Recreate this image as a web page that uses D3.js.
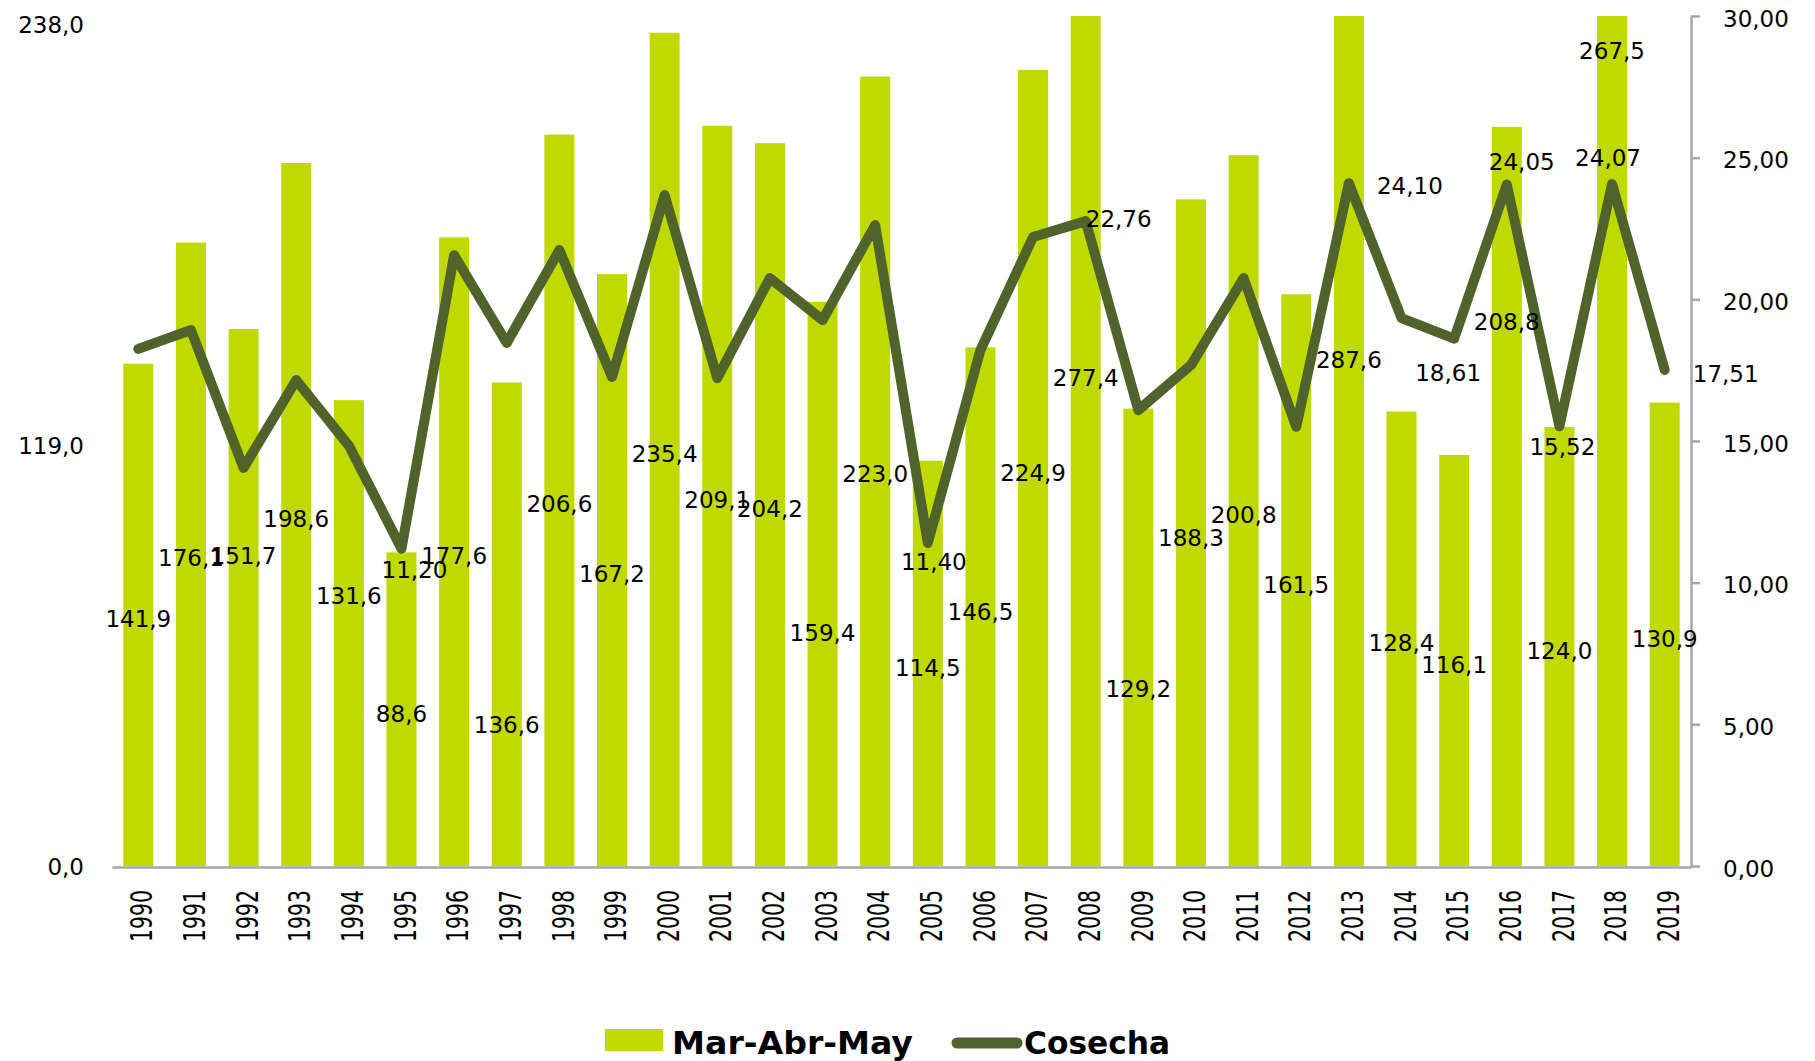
<!DOCTYPE html>
<html>
<head>
<meta charset="utf-8">
<script src="https://cdn.jsdelivr.net/npm/d3@7"></script>
<style>
  html, body { margin: 0; padding: 0; background: #ffffff; }
  svg { display: block; }
  text { font-family: "DejaVu Sans", Verdana, sans-serif; fill: #000; }
</style>
</head>
<body>
<svg id="chart" width="1815" height="1061"></svg>
<script>
// ---------------- data ----------------
const years = ["1990","1991","1992","1993","1994","1995","1996","1997","1998","1999",
               "2000","2001","2002","2003","2004","2005","2006","2007","2008","2009",
               "2010","2011","2012","2013","2014","2015","2016","2017","2018","2019"];
const marAbrMay = [141.9, 176.1, 151.7, 198.6, 131.6, 88.6, 177.6, 136.6, 206.6, 167.2,
                   235.4, 209.1, 204.2, 159.4, 223.0, 114.5, 146.5, 224.9, 277.4, 129.2,
                   188.3, 200.8, 161.5, 287.6, 128.4, 116.1, 208.8, 124.0, 267.5, 130.9];
const cosecha = [18.25, 18.92, 14.05, 17.15, 14.84, 11.20, 21.56, 18.46, 21.74, 17.26,
                 23.68, 17.22, 20.75, 19.27, 22.62, 11.40, 18.21, 22.20, 22.76, 16.09,
                 17.68, 20.75, 15.50, 24.10, 19.34, 18.61, 24.05, 15.52, 24.07, 17.51];
const cosechaLabeledYears = ["1995","2005","2008","2013","2015","2016","2017","2018","2019"];
const leftTicks = [0, 119, 238];
const rightTicks = [0, 5, 10, 15, 20, 25, 30];
const seriesNames = ["Mar-Abr-May", "Cosecha"];

// ---------------- label placement (as in the reference, in axis units) ----------------
const barLabelAt = [69.8, 87.0, 87.6, 98.1, 76.4, 43.0, 87.6, 39.8, 102.3, 82.5,
                    116.6, 103.4, 100.9, 65.9, 110.7, 55.9, 71.8, 111.2, 137.8, 50.2,
                    92.7, 99.2, 79.4, 142.9, 63.2, 56.8, 153.7, 60.7, 230.2, 64.2];
const lineLabelAt = [10.45, 10.74, 22.86, 24.0, 17.41, 24.84, 14.8, 25.0, 17.39];
const lineLabelDx = [13, 6, 33, 61, -6, 15, 3, -4, 61];

// ---------------- setup ----------------
const plot = { left: 112, right: 1691, top: 16, bottom: 866 };
const leftTop = 23.5; // where 238,0 sits on the left axis
const barColor = "#C0D900";
const lineColor = "#50632A";
const axisColor = "#A6A6A6";

const loc = d3.formatLocale({ decimal: ",", thousands: ".", grouping: [3], currency: ["", ""] });
const f1 = loc.format(".1f");
const f2 = loc.format(".2f");

const svg = d3.select("#chart");

const x = d3.scaleBand().domain(years).range([plot.left, plot.right])
  .paddingInner(0.43).paddingOuter(0.215);
const yL = d3.scaleLinear().domain([0, 238]).range([plot.bottom, leftTop]);
const yR = d3.scaleLinear().domain([0, 30]).range([plot.bottom, plot.top]);

svg.append("defs").append("clipPath").attr("id", "plotClip")
  .append("rect")
  .attr("x", plot.left).attr("y", plot.top)
  .attr("width", plot.right - plot.left).attr("height", plot.bottom - plot.top);

// bars
svg.append("g").attr("clip-path", "url(#plotClip)")
  .selectAll("rect").data(years).join("rect")
  .attr("x", d => x(d))
  .attr("width", x.bandwidth())
  .attr("y", (d, i) => yL(marAbrMay[i]))
  .attr("height", (d, i) => yL(0) - yL(marAbrMay[i]))
  .attr("fill", barColor);

// bottom axis
const xAxis = svg.append("g")
  .attr("transform", `translate(0,${plot.bottom + 1})`)
  .call(d3.axisBottom(x).tickSize(0).tickPadding(0).tickSizeOuter(0));
xAxis.select(".domain").attr("stroke", axisColor).attr("stroke-width", 2.5);
xAxis.selectAll(".tick text")
  .attr("transform", "rotate(-90)")
  .attr("text-anchor", "end")
  .attr("x", -23)
  .attr("y", 0)
  .attr("dx", 0)
  .attr("dy", "0.36em")
  .style("font-family", "'DejaVu Sans', sans-serif")
  .attr("font-size", 31)
  .attr("textLength", 52)
  .attr("lengthAdjust", "spacingAndGlyphs")
  .attr("fill", "#000");
xAxis.selectAll(".tick").attr("transform", d => `translate(${x(d) + x.bandwidth() / 2 + 3},0)`);

// left axis (labels only)
const yAxisL = svg.append("g")
  .attr("transform", `translate(${plot.left},0)`)
  .call(d3.axisLeft(yL).tickValues(leftTicks).tickFormat(f1).tickSize(0).tickPadding(28));
yAxisL.select(".domain").remove();
yAxisL.selectAll(".tick text")
  .attr("font-size", 23)
  .style("font-family", "'DejaVu Sans', sans-serif")
  .attr("dy", "0.38em")
  .attr("fill", "#000");

// right axis
const yAxisR = svg.append("g")
  .attr("transform", `translate(${plot.right},0)`)
  .call(d3.axisRight(yR).tickValues(rightTicks).tickFormat(f2).tickSize(9).tickSizeOuter(0).tickPadding(23));
yAxisR.select(".domain").attr("stroke", axisColor).attr("stroke-width", 2.5);
yAxisR.selectAll(".tick line").attr("stroke", axisColor).attr("stroke-width", 2.5);
yAxisR.selectAll(".tick text")
  .attr("font-size", 23)
  .style("font-family", "'DejaVu Sans', sans-serif")
  .attr("dy", "0.44em")
  .attr("fill", "#000");

// line
const cx = d => x(d) + x.bandwidth() / 2;
const line = d3.line().x(d => cx(d)).y((d, i) => yR(cosecha[i]));
svg.append("path")
  .datum(years)
  .attr("d", line)
  .attr("fill", "none")
  .attr("stroke", lineColor)
  .attr("stroke-width", 10)
  .attr("stroke-linejoin", "round")
  .attr("stroke-linecap", "round");

// bar value labels
svg.append("g").selectAll("text").data(years).join("text")
  .attr("x", d => cx(d))
  .attr("y", (d, i) => yL(barLabelAt[i]))
  .attr("dy", "0.36em")
  .attr("text-anchor", "middle")
  .attr("font-size", 23)
  .text((d, i) => f1(marAbrMay[i]));

// line value labels
svg.append("g").selectAll("text").data(cosechaLabeledYears).join("text")
  .attr("x", (d, j) => cx(d) + lineLabelDx[j])
  .attr("y", (d, j) => yR(lineLabelAt[j]))
  .attr("dy", "0.36em")
  .attr("text-anchor", "middle")
  .attr("font-size", 23)
  .text(d => f2(cosecha[years.indexOf(d)]));

// legend
const lg = svg.append("g");
lg.append("rect").attr("x", 605).attr("y", 1029).attr("width", 58).attr("height", 22).attr("fill", barColor);
lg.append("text").attr("x", 672).attr("y", 1054)
  .attr("font-size", 31.5).attr("font-weight", "bold")
  .attr("textLength", 241).attr("lengthAdjust", "spacingAndGlyphs")
  .text(seriesNames[0]);
lg.append("line").attr("x1", 957).attr("x2", 1017).attr("y1", 1043).attr("y2", 1043)
  .attr("stroke", lineColor).attr("stroke-width", 11).attr("stroke-linecap", "round");
lg.append("text").attr("x", 1024).attr("y", 1054)
  .attr("font-size", 31.5).attr("font-weight", "bold")
  .attr("textLength", 146).attr("lengthAdjust", "spacingAndGlyphs")
  .text(seriesNames[1]);
</script>
</body>
</html>
